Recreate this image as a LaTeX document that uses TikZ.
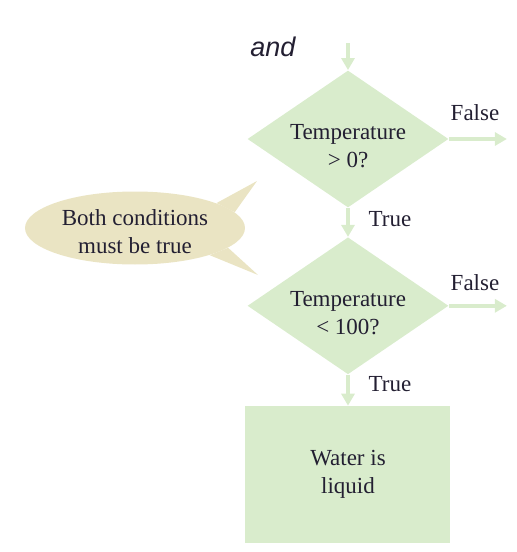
\documentclass[tikz,border=0pt]{standalone}
\usepackage{fontspec}
\setmainfont{Liberation Serif}
\newfontfamily\andfont{Liberation Sans}
\usetikzlibrary{shapes.geometric, arrows.meta, positioning, calc}
\definecolor{flowgreen}{RGB}{217,236,204}
\definecolor{notetan}{RGB}{234,228,195}
\definecolor{inkblue}{RGB}{35,31,50}
\newcommand{\toppad}[1]{\rule{0pt}{#1}}

\begin{document}
\begin{tikzpicture}[
  font=\fontsize{11.5}{14}\selectfont,
  decision/.style={diamond, fill=flowgreen, aspect=1.47, minimum width=100.5pt, minimum height=68.5pt, inner sep=-4pt, align=center, text=inkblue},
  action/.style={rectangle, fill=flowgreen, minimum width=102.5pt, minimum height=68.5pt, align=center, text=inkblue},
  note/.style={ellipse, fill=notetan, minimum width=110pt, minimum height=36.5pt, inner xsep=0pt, inner ysep=-3pt, align=center, text=inkblue},
  arrow/.style={-{Triangle[width=6.5pt,length=6pt]}, line width=2pt, draw=flowgreen},
  lbl/.style={text=inkblue},
]
\useasboundingbox (-174pt,69.5pt) rectangle (84pt,-206.5pt);

\node[decision] (cond1) {\toppad{15pt}Temperature\\> 0?};
\node[decision, below=14.5pt of cond1] (cond2) {\toppad{15pt}Temperature\\< 100?};
\node[action, below=15.5pt of cond2] (liquid) {Water is\\liquid};
\coordinate[above=13.5pt of cond1.north] (start);
\coordinate[right=29pt of cond1.east] (false1);
\coordinate[right=29pt of cond2.east] (false2);
\node[font={\andfont\itshape\fontsize{13.5}{15}\selectfont}, text=inkblue] (andlbl) at (-37.5pt,46pt) {and};

% callout with two spikes
\coordinate (tipa) at (-45.5pt,-21pt);
\coordinate (tipb) at (-45pt,-68pt);
\node[note] (both) at (-106.5pt,-44.5pt) {\toppad{12pt}Both conditions\\must be true};
\fill[notetan] (both.17) -- (tipa) -- (both.9) -- cycle;
\fill[notetan] (both.-12) -- (tipb) -- (both.-20) -- cycle;

\draw[arrow] (start) -- (cond1);
\draw[arrow] (cond1) -- node[lbl, right=6pt, pos=0.4] {True} (cond2);
\draw[arrow] (cond2) -- node[lbl, right=6pt, pos=0.3] {True} (liquid);
\draw[arrow] (cond1.east) -- node[lbl, above=5pt, pos=0.45] {False} (false1);
\draw[arrow] (cond2.east) -- node[lbl, above=3pt, pos=0.45] {False} (false2);

\end{tikzpicture}
\end{document}
